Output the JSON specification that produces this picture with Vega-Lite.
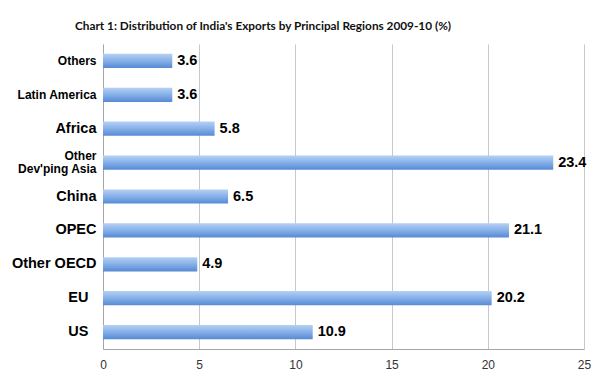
{
  "$schema": "https://vega.github.io/schema/vega-lite/v6.json",
  "width": 481,
  "height": 305,
  "autosize": {"type": "none"},
  "padding": {"left": 103, "top": 44, "right": 26, "bottom": 26},
  "background": "white",
  "title": {
    "text": "Chart 1: Distribution of India's Exports by Principal Regions 2009-10 (%)",
    "font": "Lato",
    "fontSize": 11.8,
    "fontWeight": "bold",
    "color": "#111111",
    "anchor": "start",
    "frame": "group",
    "dx": -28,
    "offset": 11
  },
  "data": {
    "values": [
      {"region": "Others", "value": 3.6},
      {"region": "Latin America", "value": 3.6},
      {"region": "Africa", "value": 5.8},
      {"region": "Other Dev'ping Asia", "value": 23.4},
      {"region": "China", "value": 6.5},
      {"region": "OPEC", "value": 21.1},
      {"region": "Other OECD", "value": 4.9},
      {"region": "EU", "value": 20.2},
      {"region": "US", "value": 10.9}
    ]
  },
  "encoding": {
    "y": {
      "field": "region",
      "type": "nominal",
      "sort": null,
      "title": null,
      "scale": {"paddingInner": 0.58, "paddingOuter": 0.29},
      "axis": {
        "ticks": false,
        "domainColor": "#a6a6a6",
        "labelFont": "Liberation Sans",
        "labelFontWeight": "bold",
        "labelColor": "#000000",
        "labelPadding": {"expr": "datum.value == 'EU' || datum.value == 'US' ? 15 : 7"},
        "labelOffset": {"expr": "datum.value == \"Other Dev'ping Asia\" ? -6.5 : 0"},
        "labelLineHeight": 13,
        "labelFontSize": {"expr": "datum.value == 'Others' || datum.value == 'Latin America' || datum.value == \"Other Dev'ping Asia\" ? 12 : 14.5"},
        "labelExpr": "datum.value == \"Other Dev'ping Asia\" ? ['Other', \"Dev'ping Asia\"] : datum.value"
      }
    },
    "x": {
      "field": "value",
      "type": "quantitative",
      "title": null,
      "scale": {"domain": [0, 25], "nice": false},
      "axis": {
        "values": [0, 5, 10, 15, 20, 25],
        "ticks": false,
        "grid": true,
        "gridColor": "#c8c8c8",
        "domainColor": "#a6a6a6",
        "labelFlush": false,
        "labelFont": "Liberation Sans",
        "labelFontSize": 12,
        "labelColor": "#333333",
        "labelPadding": 10
      }
    }
  },
  "layer": [
    {
      "mark": {
        "type": "bar",
        "color": {
          "gradient": "linear",
          "x1": 0, "y1": 0, "x2": 0, "y2": 1,
          "stops": [
            {"offset": 0, "color": "#b5d0f4"},
            {"offset": 0.45, "color": "#8ab3ea"},
            {"offset": 1, "color": "#568ad4"}
          ]
        }
      }
    },
    {
      "mark": {
        "type": "text",
        "align": "left",
        "baseline": "middle",
        "dx": 5,
        "font": "Liberation Sans",
        "fontWeight": "bold",
        "fontSize": 14.5,
        "color": "#000000"
      },
      "encoding": {
        "text": {"field": "value", "type": "quantitative", "format": ".1f"}
      }
    }
  ],
  "config": {
    "view": {"stroke": null}
  }
}
